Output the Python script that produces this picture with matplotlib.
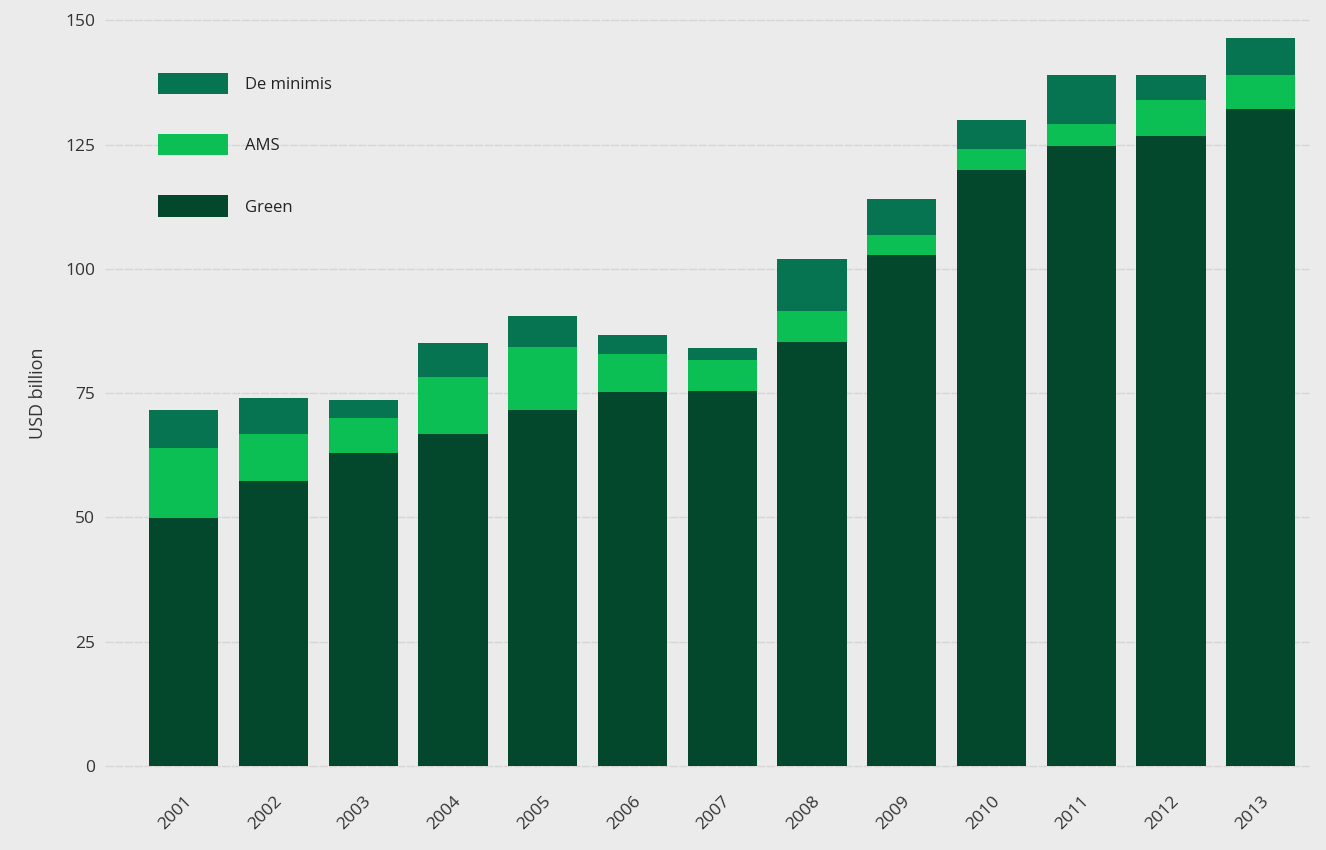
import matplotlib.pyplot as plt
import numpy as np

plt.rcParams['font.family'] = ['Open Sans', 'DejaVu Sans']

years = ['2001', '2002', '2003', '2004', '2005', '2006', '2007',
         '2008', '2009', '2010', '2011', '2012', '2013']
green = [49.9, 57.3, 63.0, 66.8, 71.6, 75.3, 75.5, 85.3, 102.8, 119.9, 124.8, 126.8, 132.1]
ams = [14.1, 9.5, 7.0, 11.5, 12.7, 7.6, 6.2, 6.2, 4.0, 4.1, 4.3, 7.2, 6.8]
de_minimis = [7.6, 7.2, 3.6, 6.8, 6.2, 3.8, 2.4, 10.5, 7.3, 6.0, 9.8, 4.9, 7.5]

c_green = '#03472d'
c_ams = '#0bbf55'
c_dm = '#077451'
bg = '#ebebeb'

fig = plt.figure(figsize=(13.26, 8.5), dpi=100, facecolor=bg)
ax = fig.add_axes([0.079, 0.09, 0.909, 0.895], facecolor=bg)

x = np.arange(len(years))
w = 0.77
g = np.array(green)
a = np.array(ams)
d = np.array(de_minimis)
b1 = ax.bar(x, g, w, color=c_green, label='Green', zorder=2)
b2 = ax.bar(x, a, w, bottom=g, color=c_ams, label='AMS', zorder=2)
b3 = ax.bar(x, d, w, bottom=g + a, color=c_dm, label='De minimis', zorder=2)

ax.set_xlim(-0.88, 12.55)
ax.set_ylim(-1.5, 151.5)
ax.set_yticks([0, 25, 50, 75, 100, 125, 150])
ax.set_xticks(x)
ax.set_xticklabels(years, rotation=45, ha='right', rotation_mode='anchor')
ax.tick_params(axis='both', length=0, labelsize=12.5, colors='#333333')
ax.tick_params(axis='x', pad=14)
ax.tick_params(axis='y', pad=7)
ax.grid(axis='y', color='#d6d6d6', linewidth=1, linestyle=(0, (6, 1)), zorder=0)
for s in ax.spines.values():
    s.set_visible(False)

ax.set_ylabel('USD billion', fontsize=13, color='#333333', labelpad=13)

leg = ax.legend(handles=[b3, b2, b1], loc='upper left', bbox_to_anchor=(0.032, 0.941),
                frameon=False, fontsize=12, handlelength=4.2, handleheight=1.6,
                labelspacing=2.4, handletextpad=1.0)
for t in leg.get_texts():
    t.set_color('#222222')

fig.savefig('out.png', dpi=100, facecolor=bg)
